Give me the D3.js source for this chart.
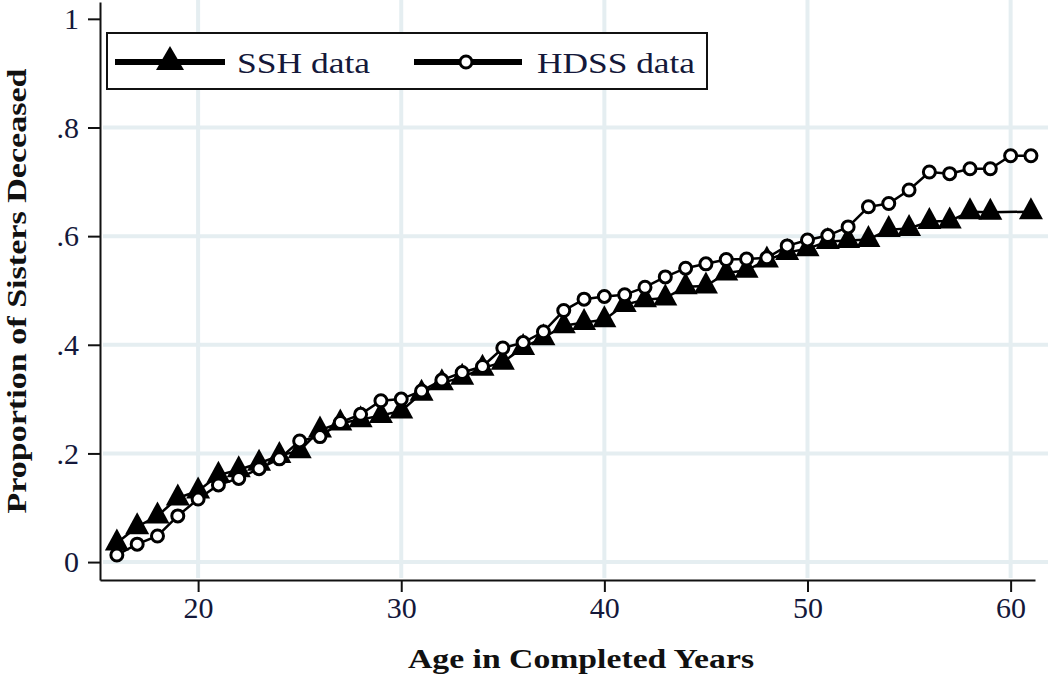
<!DOCTYPE html>
<html>
<head>
<meta charset="utf-8">
<script src="https://cdn.jsdelivr.net/npm/d3@7"></script>
<style>
  body { margin: 0; background: #fff; }
  svg { display: block; }
  svg text { font-family: "Liberation Serif", "Times New Roman", Times, serif; }
</style>
</head>
<body>
<svg id="chart" width="1050" height="680"></svg>
<script>
/* Data: proportion of sisters deceased by age */
var ages = [16, 17, 18, 19, 20, 21, 22, 23, 24, 25, 26, 27, 28, 29, 30, 31, 32, 33, 34, 35, 36, 37, 38,
            39, 40, 41, 42, 43, 44, 45, 46, 47, 48, 49, 50, 51, 52, 53, 54, 55, 56, 57, 58, 59, 60, 61];

// SSH has no point at age 60 (line goes straight from 59 to 61)
var sshValues = [0.035, 0.065, 0.085, 0.118, 0.131, 0.160, 0.170, 0.182, 0.196, 0.205, 0.243, 0.256,
                 0.262, 0.270, 0.278, 0.311, 0.330, 0.340, 0.357, 0.368, 0.395, 0.413, 0.435, 0.441,
                 0.446, 0.474, 0.483, 0.486, 0.507, 0.508, 0.532, 0.537, 0.556, 0.570, 0.577, 0.590,
                 0.592, 0.594, 0.612, 0.614, 0.627, 0.628, 0.645, 0.644, null, 0.645];

var hdssValues = [0.013, 0.033, 0.048, 0.085, 0.116, 0.142, 0.154, 0.172, 0.190, 0.223, 0.231, 0.257,
                  0.272, 0.297, 0.300, 0.315, 0.335, 0.349, 0.360, 0.394, 0.404, 0.424, 0.463, 0.484,
                  0.489, 0.492, 0.506, 0.525, 0.541, 0.549, 0.557, 0.558, 0.560, 0.582, 0.593, 0.601,
                  0.617, 0.654, 0.660, 0.685, 0.718, 0.715, 0.724, 0.724, 0.748, 0.748];

var xTicks = [20, 30, 40, 50, 60];
var yTicks = [0, 0.2, 0.4, 0.6, 0.8, 1];
var yTickLabels = ["0", ".2", ".4", ".6", ".8", "1"];
var seriesNames = ["SSH data", "HDSS data"];

var serif = "'Liberation Serif', 'Times New Roman', Times, serif";

/* Scales */
var x = d3.scaleLinear().domain([15.17, 61.2]).range([100, 1035]);
var y = d3.scaleLinear().domain([-0.033, 1.031]).range([580, 2]);

var svg = d3.select("svg#chart");

// gridlines (none at the top value)
svg.append("g")
  .selectAll("line.hgrid")
  .data(yTicks.filter(function (t) { return t < 1; }))
  .enter()
  .append("line")
  .attr("class", "hgrid")
  .attr("x1", 103).attr("x2", 1048)
  .attr("y1", function (d) { return y(d); })
  .attr("y2", function (d) { return y(d); })
  .attr("stroke", "#e5eef1")
  .attr("stroke-width", 4);

svg.append("g")
  .selectAll("line.vgrid")
  .data(xTicks)
  .enter()
  .append("line")
  .attr("class", "vgrid")
  .attr("y1", 0).attr("y2", 578)
  .attr("x1", function (d) { return x(d); })
  .attr("x2", function (d) { return x(d); })
  .attr("stroke", "#e5eef1")
  .attr("stroke-width", 4);

/* Axes */
var yAxis = d3.axisLeft(y)
  .tickValues(yTicks)
  .tickFormat(function (d, i) { return yTickLabels[i]; })
  .tickSize(12)
  .tickPadding(9)
  .tickSizeOuter(0);

var xAxis = d3.axisBottom(x)
  .tickValues(xTicks)
  .tickFormat(d3.format("d"))
  .tickSize(12)
  .tickPadding(5)
  .tickSizeOuter(0);

var gy = svg.append("g").attr("transform", "translate(100,0)").call(yAxis);
var gx = svg.append("g").attr("transform", "translate(0,580)").call(xAxis);

[gx, gy].forEach(function (g) {
  g.attr("font-family", serif);
  g.select(".domain").attr("stroke", "#111").attr("stroke-width", 2);
  g.selectAll(".tick line").attr("stroke", "#111").attr("stroke-width", 2);
  g.selectAll(".tick text")
    .attr("font-size", 30)
    .attr("fill", "#14183a");
});

// axis titles
svg.append("text")
  .attr("transform", "translate(26,291) rotate(-90)")
  .attr("text-anchor", "middle")
  .attr("font-family", serif)
  .attr("font-size", 28)
  .attr("font-weight", "bold")
  .attr("textLength", 445)
  .attr("lengthAdjust", "spacingAndGlyphs")
  .attr("fill", "#111")
  .text("Proportion of Sisters Deceased");

svg.append("text")
  .attr("x", 581)
  .attr("y", 668)
  .attr("text-anchor", "middle")
  .attr("font-family", serif)
  .attr("font-size", 28)
  .attr("font-weight", "bold")
  .attr("textLength", 346)
  .attr("lengthAdjust", "spacingAndGlyphs")
  .attr("fill", "#111")
  .text("Age in Completed Years");

/* Series */
function pairs(values) {
  return ages
    .map(function (a, i) { return { age: a, v: values[i] }; })
    .filter(function (d) { return d.v != null; });
}

var ssh = pairs(sshValues);
var hdss = pairs(hdssValues);

var line = d3.line()
  .x(function (d) { return x(d.age); })
  .y(function (d) { return y(d.v); });

var triangle = "M0,-14.5L12,7.5L-12,7.5Z";

// SSH first, HDSS drawn on top
svg.append("path")
  .datum(ssh)
  .attr("d", line)
  .attr("fill", "none")
  .attr("stroke", "#000")
  .attr("stroke-width", 2.5);

svg.append("g")
  .selectAll("path.tri")
  .data(ssh)
  .enter()
  .append("path")
  .attr("class", "tri")
  .attr("d", triangle)
  .attr("transform", function (d) { return "translate(" + x(d.age) + "," + y(d.v) + ")"; })
  .attr("fill", "#000");

svg.append("path")
  .datum(hdss)
  .attr("d", line)
  .attr("fill", "none")
  .attr("stroke", "#000")
  .attr("stroke-width", 2.5);

svg.append("g")
  .selectAll("circle.dot")
  .data(hdss)
  .enter()
  .append("circle")
  .attr("class", "dot")
  .attr("cx", function (d) { return x(d.age); })
  .attr("cy", function (d) { return y(d.v); })
  .attr("r", 6)
  .attr("fill", "#fff")
  .attr("stroke", "#000")
  .attr("stroke-width", 3);

/* Legend */
var legend = svg.append("g");

legend.append("rect")
  .attr("x", 107).attr("y", 33)
  .attr("width", 600).attr("height", 56)
  .attr("fill", "#fff")
  .attr("stroke", "#111")
  .attr("stroke-width", 2);

var legendItems = [
  { name: seriesNames[0], x1: 115, x2: 225, mx: 170, tx: 237, tw: 133 },
  { name: seriesNames[1], x1: 414, x2: 522, mx: 466, tx: 537, tw: 158 }
];

legend.selectAll("line.key")
  .data(legendItems)
  .enter()
  .append("line")
  .attr("class", "key")
  .attr("x1", function (d) { return d.x1; })
  .attr("x2", function (d) { return d.x2; })
  .attr("y1", 62).attr("y2", 62)
  .attr("stroke", "#000")
  .attr("stroke-width", 6);

legend.append("path")
  .attr("d", "M0,-16L14,8L-14,8Z")
  .attr("transform", "translate(" + legendItems[0].mx + ",62)")
  .attr("fill", "#000");

legend.append("circle")
  .attr("cx", legendItems[1].mx)
  .attr("cy", 62)
  .attr("r", 6)
  .attr("fill", "#fff")
  .attr("stroke", "#000")
  .attr("stroke-width", 3);

legend.selectAll("text.key")
  .data(legendItems)
  .enter()
  .append("text")
  .attr("class", "key")
  .attr("x", function (d) { return d.tx; })
  .attr("y", 73)
  .attr("font-family", serif)
  .attr("font-size", 30)
  .attr("textLength", function (d) { return d.tw; })
  .attr("lengthAdjust", "spacingAndGlyphs")
  .attr("fill", "#14183a")
  .text(function (d) { return d.name; });
</script>
</body>
</html>
